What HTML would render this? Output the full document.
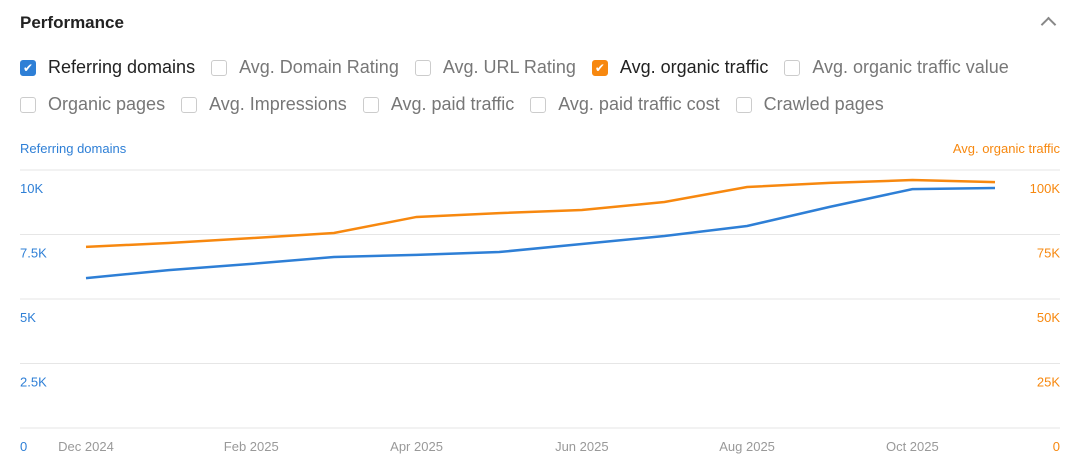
<!DOCTYPE html>
<html><head><meta charset="utf-8"><style>
body{margin:0;width:1076px;height:472px;background:#fff;font-family:"Liberation Sans",sans-serif;overflow:hidden;position:relative}
.t{position:absolute;left:20px;top:13px;font-size:17px;font-weight:bold;color:#222}
.chev{position:absolute;left:1043px;top:19px;width:9px;height:9px;border-left:2px solid #888;border-top:2px solid #888;transform:rotate(45deg)}
.row{position:absolute;left:20px;display:flex;font-size:18px;color:#777;white-space:nowrap}
.cb{display:flex;align-items:center;margin-right:16px}
.box{width:16px;height:16px;border:1px solid #ccc;border-radius:3px;margin-right:12px;box-sizing:border-box;flex:none}
.on{background:#2e7fd6;border-color:#2e7fd6;color:#fff;font-size:12px;text-align:center;line-height:15px}
.or{background:#f7880f;border-color:#f7880f}
</style></head><body>
<div class="t">Performance</div>
<div class="chev"></div>
<div class="row" style="top:57px">
<div class="cb"><div class="box on">✔</div><span style="color:#222">Referring domains</span></div>
<div class="cb"><div class="box"></div>Avg. Domain Rating</div>
<div class="cb"><div class="box"></div>Avg. URL Rating</div>
<div class="cb"><div class="box on or">✔</div><span style="color:#222">Avg. organic traffic</span></div>
<div class="cb"><div class="box"></div>Avg. organic traffic value</div>
</div>
<div class="row" style="top:94px">
<div class="cb"><div class="box"></div>Organic pages</div>
<div class="cb"><div class="box"></div>Avg. Impressions</div>
<div class="cb"><div class="box"></div>Avg. paid traffic</div>
<div class="cb"><div class="box"></div>Avg. paid traffic cost</div>
<div class="cb"><div class="box"></div>Crawled pages</div>
</div>
<svg id="ch" width="1076" height="472" style="position:absolute;left:0;top:0"></svg>
<script>
const months=["Dec 2024","Jan 2025","Feb 2025","Mar 2025","Apr 2025","May 2025","Jun 2025","Jul 2025","Aug 2025","Sep 2025","Oct 2025","Nov 2025"];
const refDomains=[5810,6120,6360,6630,6710,6820,7130,7440,7830,8570,9260,9300];
const organicTraffic=[70200,71700,73600,75600,81800,83300,84500,87600,93400,95000,96100,95300];
const leftTicks=[0,2500,5000,7500,10000];
const leftLabels=["0","2.5K","5K","7.5K","10K"];
const rightTicks=[0,25000,50000,75000,100000];
const rightLabels=["0","25K","50K","75K","100K"];
const s=document.getElementById('ch'),NS="http://www.w3.org/2000/svg";
const x=i=>86+i*(995-86)/(months.length-1);
const yL=v=>428-v*(258/10000);
const yR=v=>428-v*(258/100000);
function el(t,a,txt){const e=document.createElementNS(NS,t);for(const k in a)e.setAttribute(k,a[k]);if(txt!==undefined)e.textContent=txt;s.appendChild(e);return e;}
let e=el('text',{x:20,y:153,'font-size':13,fill:'#2e7fd6'},'Referring domains');

e=el('text',{x:1060,y:153,'font-size':13,fill:'#f7880f','text-anchor':'end'},'Avg. organic traffic');

leftTicks.forEach((v,i)=>{
 e=el('line',{x1:20,x2:1060,y1:yL(v),y2:yL(v),stroke:'#e6e6e6'});
 
 e=el('text',{x:20,y:yL(v)+23,'font-size':13,fill:'#2e7fd6'},leftLabels[i]);
 
});
rightTicks.forEach((v,i)=>{
 e=el('text',{x:1060,y:yR(v)+23,'font-size':13,fill:'#f7880f','text-anchor':'end'},rightLabels[i]);
 
});
months.forEach((m,i)=>{if(i%2==0){
 e=el('text',{x:x(i),y:451,'font-size':13,fill:'#999','text-anchor':'middle'},m);
 }});
e=el('polyline',{points:organicTraffic.map((v,i)=>x(i)+','+yR(v)).join(' '),fill:'none',stroke:'#f7880f','stroke-width':2.5});

e=el('polyline',{points:refDomains.map((v,i)=>x(i)+','+yL(v)).join(' '),fill:'none',stroke:'#2e7fd6','stroke-width':2.5});

</script>
</body></html>
